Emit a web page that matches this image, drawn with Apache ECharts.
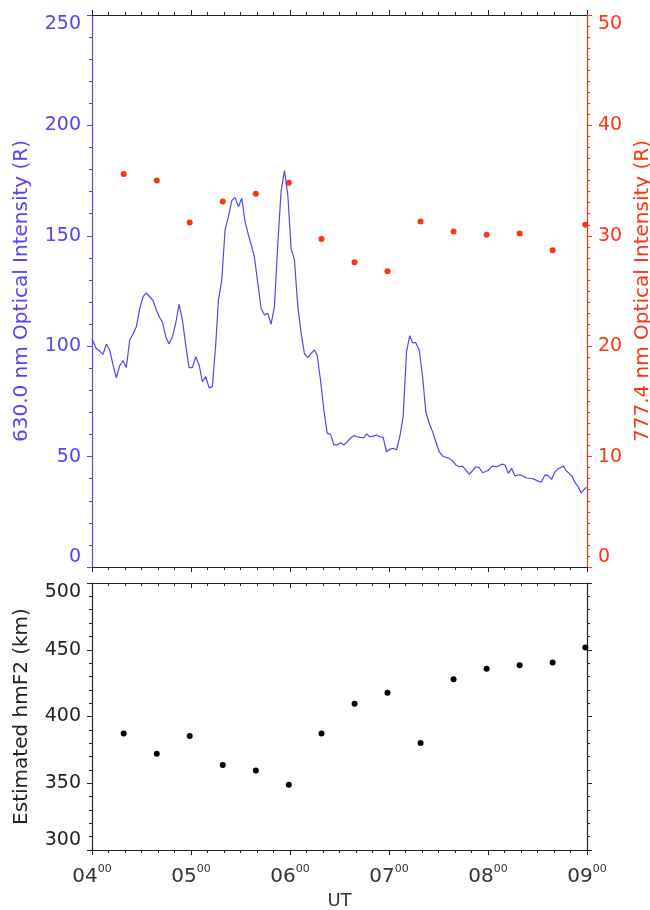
<!DOCTYPE html>
<html>
<head>
<meta charset="utf-8">
<script src="https://cdn.jsdelivr.net/npm/echarts@6/dist/echarts.min.js"></script>
<style>
  html, body { margin: 0; padding: 0; background: #fff; }
  #chart { width: 650px; height: 910px; }
</style>
</head>
<body>
<div id="chart"></div>
<script>
'use strict';

// UT in decimal hours
var lineTime = [4.0, 4.043, 4.078, 4.111, 4.145, 4.179, 4.212, 4.246, 4.28, 4.313, 4.347, 4.381, 4.414, 4.448, 4.482,
  4.516, 4.549, 4.583, 4.617, 4.65, 4.684, 4.71, 4.745, 4.778, 4.812, 4.846, 4.879, 4.913, 4.947, 4.98,
  5.014, 5.048, 5.082, 5.115, 5.149, 5.183, 5.216, 5.25, 5.277, 5.311, 5.344, 5.378, 5.412, 5.445, 5.479,
  5.513, 5.546, 5.58, 5.614, 5.64, 5.675, 5.708, 5.742, 5.776, 5.809, 5.843, 5.877, 5.91, 5.944, 5.978,
  6.011, 6.045, 6.079, 6.113, 6.146, 6.18, 6.214, 6.247, 6.274, 6.308, 6.342, 6.375, 6.409, 6.443, 6.476,
  6.51, 6.544, 6.577, 6.611, 6.645, 6.678, 6.712, 6.746, 6.773, 6.807, 6.84, 6.874, 6.908, 6.941, 6.975,
  7.008, 7.042, 7.076, 7.109, 7.143, 7.177, 7.21, 7.237, 7.271, 7.305, 7.339, 7.372, 7.406, 7.44, 7.473,
  7.507, 7.541, 7.574, 7.608, 7.642, 7.676, 7.709, 7.743, 7.776, 7.81, 7.844, 7.877, 7.911, 7.945, 7.996,
  8.043, 8.091, 8.144, 8.172, 8.205, 8.238, 8.273, 8.313, 8.354, 8.387, 8.427, 8.461, 8.495, 8.536, 8.576,
  8.609, 8.643, 8.677, 8.718, 8.764, 8.784, 8.819, 8.852, 8.879, 8.906, 8.94, 8.973, 8.993];

var lineIntensity = [103.3, 99, 97.8, 96.3, 101, 98.3, 91.5, 85.7, 91.2, 93.4, 90.4, 102.8, 105.5, 108.8, 117.1,
  122.4, 124.2, 122.4, 120.6, 116.4, 112.9, 111.1, 104.3, 101, 104.3, 110.4, 119, 111.9, 100.5, 90.3,
  90.3, 95.2, 91.5, 83.9, 86.2, 81.1, 81.7, 101, 120.9, 130, 152.6, 158.7, 165.9, 167.4, 163.2,
  167, 156.4, 150.4, 145.1, 140.5, 128.5, 117.2, 114.1, 114.9, 110, 117.9, 146.6, 170, 179.5, 168.5,
  144.3, 139, 117.9, 105.8, 96.5, 94.8, 96.8, 98.3, 96, 84.7, 71.1, 60.6, 60.2, 55.3, 55.3,
  56.3, 55.3, 56.7, 58.3, 59.5, 59, 58.7, 58.6, 60.2, 59, 59.3, 59.8, 59, 58.7, 52.2,
  53.3, 53.8, 53, 59, 68.1, 97.5, 104.8, 101.6, 101.6, 98.3, 86.2, 70.3, 65.1, 61.3, 56.7,
  52.2, 50.3, 49.7, 49.2, 48.1, 46.2, 45.4, 45.7, 43.9, 42, 43.6, 45.4, 45, 42.7, 43.6,
  45.7, 45.4, 46.6, 46.2, 42.4, 44.7, 41.2, 41.8, 41.2, 40.3, 40.2, 39.9, 39.1, 38.4, 41.7,
  41.3, 39.7, 43.2, 44.7, 45.7, 43.9, 42.4, 40.9, 38.2, 36.7, 33.6, 35.2, 36.1];

var dotTime = [3.995, 4.32, 4.654, 4.987, 5.321, 5.655, 5.988, 6.318, 6.652, 6.985, 7.319, 7.652, 7.986, 8.32, 8.653, 8.983];
var intensity777 = [35.2, 35.6, 35.0, 31.2, 33.1, 33.8, 34.8, 29.7, 27.6, 26.8, 31.3, 30.4, 30.1, 30.2, 28.7, 31.0];
var hmF2 = [380.6, 387.3, 372.1, 385.3, 363.6, 359.6, 348.9, 387.3, 409.5, 417.7, 380.1, 427.9, 435.7, 438.4, 440.4, 451.6];

var hourLabels = ['04', '05', '06', '07', '08', '09'];

var BLUE = '#5544f0', RED = '#ff3410', BLACK = '#222';
var FONT = "'DejaVu Sans', sans-serif";

function zip(a, b) {
  return a.map(function (v, i) { return [v, b[i]]; });
}

function xAx(grid, pos, showLabel, inside) {
  return {
    type: 'value', gridIndex: grid, position: pos,
    min: 4, max: 9, interval: 1,
    splitLine: { show: false },
    axisLine: { show: true, onZero: false, lineStyle: { color: BLACK, width: 1.2 } },
    axisTick: { show: true, inside: inside, length: 5, lineStyle: { color: BLACK } },
    minorTick: { show: true, splitNumber: 6, length: 3, lineStyle: { color: BLACK } },
    axisLabel: {
      show: showLabel, margin: 14,
      formatter: function (v) { return '{m|' + hourLabels[Math.round(v) - 4] + '}{s|00}'; },
      rich: {
        m: { fontFamily: FONT, fontSize: 20, color: '#333', lineHeight: 23, verticalAlign: 'bottom' },
        s: { fontFamily: FONT, fontSize: 11, color: '#333', lineHeight: 11, verticalAlign: 'top' }
      }
    }
  };
}

function yAx(grid, pos, min, max, minor, color, showLabel, name, gap) {
  return {
    type: 'value', gridIndex: grid, position: pos,
    min: min, max: max, interval: 50,
    name: name, nameLocation: 'middle', nameGap: gap,
    nameTextStyle: { color: color, fontFamily: FONT, fontSize: 20 },
    splitLine: { show: false },
    axisLine: { show: true, onZero: false, lineStyle: { color: color, width: 1.2 } },
    axisTick: { show: true, length: 5, lineStyle: { color: color } },
    minorTick: { show: true, splitNumber: minor, length: 3, lineStyle: { color: color } },
    axisLabel: {
      show: showLabel, color: color, fontFamily: FONT, fontSize: 19, margin: 11,
      verticalAlignMaxLabel: 'top', verticalAlignMinLabel: 'bottom'
    }
  };
}

var options = {
  animation: false,
  backgroundColor: '#fff',
  grid: [
    { left: 92, right: 63, top: 15, height: 552, outerBoundsMode: 'none' },
    { left: 92, right: 63, top: 583, height: 267, outerBoundsMode: 'none' }
  ],
  xAxis: [
    xAx(0, 'bottom', false, false),
    xAx(0, 'top', false, false),
    Object.assign(xAx(1, 'bottom', true, false), {
      name: 'UT', nameLocation: 'middle', nameGap: 42,
      nameTextStyle: { color: '#333', fontFamily: FONT, fontSize: 18 }
    }),
    xAx(1, 'top', false, true)
  ],
  yAxis: [
    yAx(0, 'left', 0, 250, 5, BLUE, true, '630.0 nm Optical Intensity (R)', 60),
    Object.assign(yAx(0, 'right', 0, 50, 10, RED, true, '777.4 nm Optical Intensity (R)', 40), { interval: 10 }),
    yAx(1, 'left', 300, 500, 5, BLACK, true, 'Estimated hmF2 (km)', 60),
    yAx(1, 'right', 300, 500, 5, BLACK, false, '', 0)
  ],
  series: [
    {
      type: 'line', xAxisIndex: 0, yAxisIndex: 0,
      data: zip(lineTime, lineIntensity),
      showSymbol: false,
      lineStyle: { color: BLUE, width: 1.2 }
    },
    {
      type: 'scatter', xAxisIndex: 0, yAxisIndex: 1,
      data: zip(dotTime, intensity777),
      symbolSize: 6,
      itemStyle: { color: RED, opacity: 1 }
    },
    {
      type: 'scatter', xAxisIndex: 2, yAxisIndex: 2,
      data: zip(dotTime, hmF2),
      symbolSize: 6,
      itemStyle: { color: '#000', opacity: 1 }
    }
  ]
};

var chart = echarts.init(document.getElementById('chart'), null, { renderer: 'canvas' });
chart.setOption(options);
</script>
</body>
</html>
